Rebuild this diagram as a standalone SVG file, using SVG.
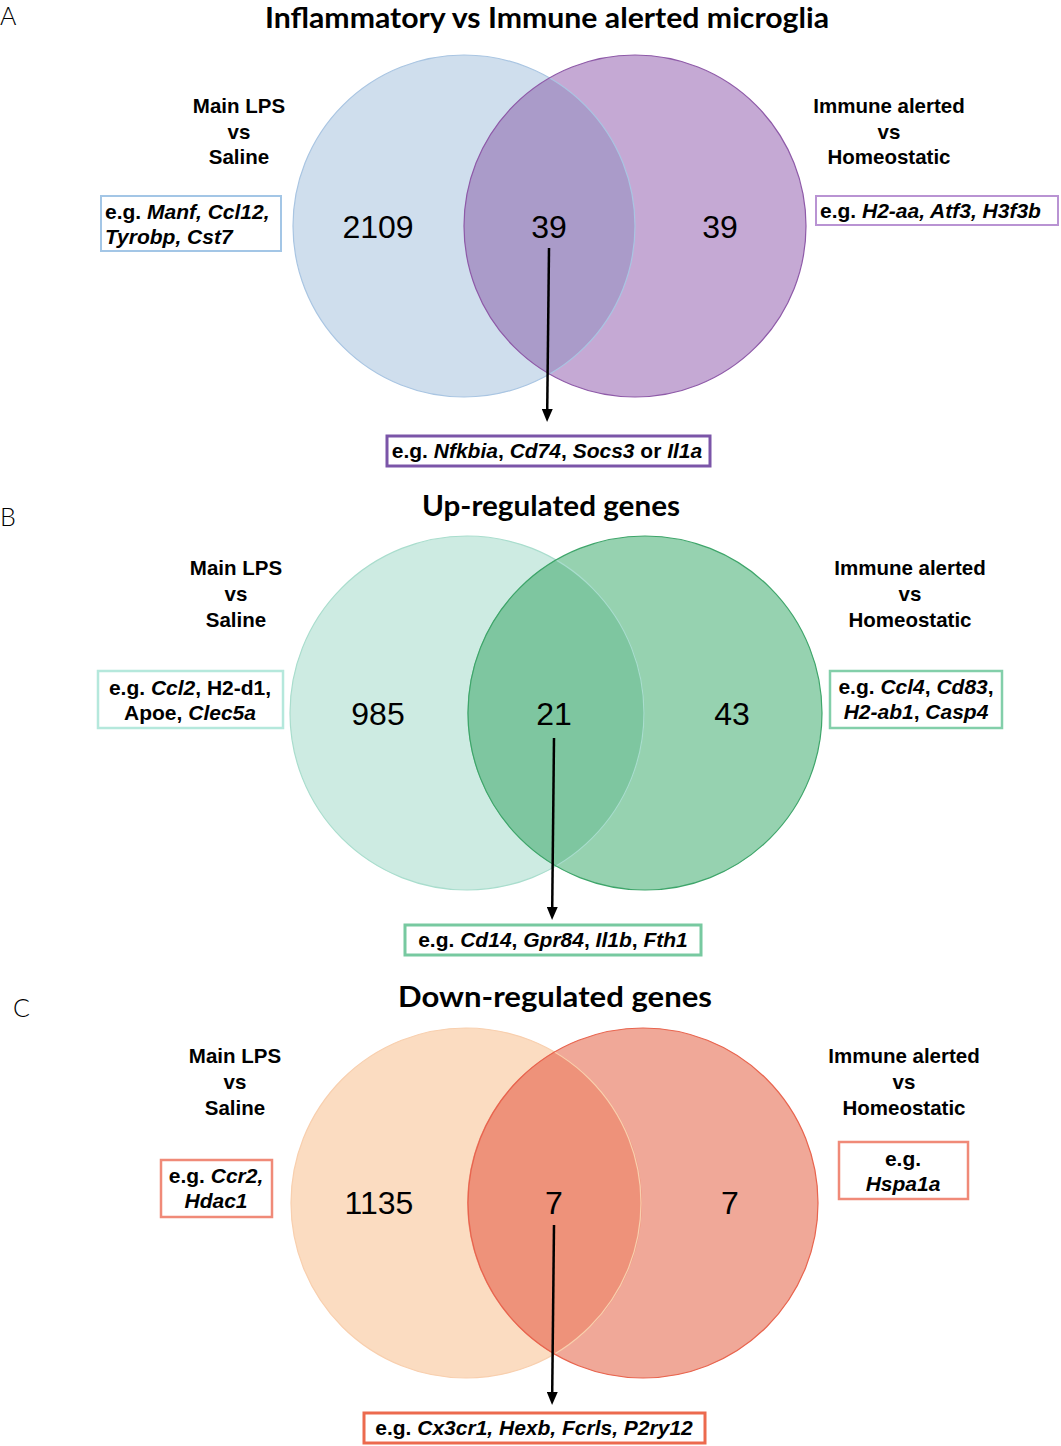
<svg xmlns="http://www.w3.org/2000/svg" width="1061" height="1446" viewBox="0 0 1061 1446">
<defs>
<style>
text{font-family:"Liberation Sans",Arial,sans-serif;fill:#000}
.title{font-family:Lato,"Open Sans",sans-serif;font-weight:700;font-size:28px;text-anchor:middle}
.panel{font-family:Lato,"Open Sans",sans-serif;font-weight:300;font-size:25px}
.lab{font-weight:700;font-size:20.5px;text-anchor:middle}
.num{font-size:32px;text-anchor:middle}
.box{font-weight:700;font-size:21px}
.mid{text-anchor:middle}
.i{font-style:italic}
.arrow{stroke:#000;stroke-width:2.5;fill:none}
</style>
<marker id="ah" markerWidth="13" markerHeight="11" refX="2" refY="5.5" orient="auto" markerUnits="userSpaceOnUse" viewBox="0 0 13 11">
<path d="M0,0 L13,5.5 L0,11 Z" fill="#000"/>
</marker>
</defs>
<rect width="1061" height="1446" fill="#fff"/>

<!-- Panel A -->
<g id="panelA">
<text class="panel" x="0" y="25">A</text>
<text class="title" x="547" y="28" textLength="564" lengthAdjust="spacingAndGlyphs">Inflammatory vs Immune alerted microglia</text>
<g id="A-left">
<circle cx="464" cy="226" r="171" fill="#cfdeed"/>
</g>
<g id="A-right">
<circle cx="635" cy="226" r="171" fill="#c5a9d4"/>
</g>
<g id="A-overlap">
<path d="M549.5,77.9 A171,171 0 0 1 549.5,374.1 A171,171 0 0 1 549.5,77.9 Z" fill="#aa9bc9"/>
</g>
<circle cx="464" cy="226" r="171" fill="none" stroke="#a9c5e2" stroke-width="1.2"/>
<circle cx="635" cy="226" r="171" fill="none" stroke="#8e5aa8" stroke-width="1.2"/>
<text class="lab" x="239" y="113">Main LPS</text>
<text class="lab" x="239" y="139">vs</text>
<text class="lab" x="239" y="164">Saline</text>
<text class="lab" x="889" y="113">Immune alerted</text>
<text class="lab" x="889" y="139">vs</text>
<text class="lab" x="889" y="164">Homeostatic</text>
<text class="num" x="378" y="238">2109</text>
<text class="num" x="549" y="238">39</text>
<text class="num" x="720" y="238">39</text>
<g id="A-box-left">
<rect x="101" y="196" width="180" height="55" fill="#fff" stroke="#a3c6e6" stroke-width="2"/>
<text class="box" x="105" y="219">e.g. <tspan class="i">Manf, Ccl12,</tspan></text>
<text class="box i" x="105" y="244">Tyrobp, Cst7</text>
</g>
<g id="A-box-right">
<rect x="816" y="196" width="242" height="29" fill="#fff" stroke="#b993d3" stroke-width="2"/>
<text class="box" x="820" y="218">e.g. <tspan class="i">H2-aa, Atf3, H3f3b</tspan></text>
</g>
<g id="A-box-bottom">
<rect x="387" y="436" width="323" height="30" fill="#fff" stroke="#7b55a8" stroke-width="3"/>
<text class="box mid" x="547" y="458">e.g. <tspan class="i">Nfkbia</tspan>, <tspan class="i">Cd74</tspan>, <tspan class="i">Socs3</tspan> or <tspan class="i">Il1a</tspan></text>
</g>
</g>

<!-- Panel B -->
<g id="panelB">
<text class="panel" x="0" y="526">B</text>
<text class="title" x="551" y="516" textLength="258" lengthAdjust="spacingAndGlyphs">Up-regulated genes</text>
<g id="B-left">
<circle cx="467" cy="713" r="177" fill="#cdebe2"/>
</g>
<g id="B-right">
<circle cx="645" cy="713" r="177" fill="#96d2b0"/>
</g>
<g id="B-overlap">
<path d="M556,559.7 A177,177 0 0 1 556,866.3 A177,177 0 0 1 556,559.7 Z" fill="#7ec6a0"/>
</g>
<circle cx="467" cy="713" r="177" fill="none" stroke="#a9ddcd" stroke-width="1.2"/>
<circle cx="645" cy="713" r="177" fill="none" stroke="#3ea56a" stroke-width="1.2"/>
<text class="lab" x="236" y="575">Main LPS</text>
<text class="lab" x="236" y="601">vs</text>
<text class="lab" x="236" y="627">Saline</text>
<text class="lab" x="910" y="575">Immune alerted</text>
<text class="lab" x="910" y="601">vs</text>
<text class="lab" x="910" y="627">Homeostatic</text>
<text class="num" x="378" y="725">985</text>
<text class="num" x="554" y="725">21</text>
<text class="num" x="732" y="725">43</text>
<g id="B-box-left">
<rect x="98" y="671" width="185" height="57" fill="#fff" stroke="#b5e8dc" stroke-width="2.5"/>
<text class="box mid" x="190" y="695">e.g. <tspan class="i">Ccl2</tspan>, H2-d1,</text>
<text class="box mid" x="190" y="720">Apoe, <tspan class="i">Clec5a</tspan></text>
</g>
<g id="B-box-right">
<rect x="830" y="671" width="172" height="57" fill="#fff" stroke="#83cfaa" stroke-width="2.5"/>
<text class="box mid" x="916" y="694">e.g. <tspan class="i">Ccl4</tspan>, <tspan class="i">Cd83</tspan>,</text>
<text class="box mid" x="916" y="719"><tspan class="i">H2-ab1</tspan>, <tspan class="i">Casp4</tspan></text>
</g>
<g id="B-box-bottom">
<rect x="405" y="925" width="296" height="30" fill="#fff" stroke="#77c9a0" stroke-width="3"/>
<text class="box mid" x="553" y="947">e.g. <tspan class="i">Cd14</tspan>, <tspan class="i">Gpr84</tspan>, <tspan class="i">Il1b</tspan>, <tspan class="i">Fth1</tspan></text>
</g>
</g>

<!-- Panel C -->
<g id="panelC">
<text class="panel" x="13" y="1017">C</text>
<text class="title" x="555" y="1007" textLength="314" lengthAdjust="spacingAndGlyphs">Down-regulated genes</text>
<g id="C-left">
<circle cx="466" cy="1203" r="175" fill="#fbdcc1"/>
</g>
<g id="C-right">
<circle cx="643" cy="1203" r="175" fill="#f0a898"/>
</g>
<g id="C-overlap">
<path d="M554.5,1051.5 A175,175 0 0 1 554.5,1354.5 A175,175 0 0 1 554.5,1051.5 Z" fill="#ee927a"/>
</g>
<circle cx="466" cy="1203" r="175" fill="none" stroke="#f8cfae" stroke-width="1.2"/>
<circle cx="643" cy="1203" r="175" fill="none" stroke="#e8644e" stroke-width="1.2"/>
<text class="lab" x="235" y="1063">Main LPS</text>
<text class="lab" x="235" y="1089">vs</text>
<text class="lab" x="235" y="1115">Saline</text>
<text class="lab" x="904" y="1063">Immune alerted</text>
<text class="lab" x="904" y="1089">vs</text>
<text class="lab" x="904" y="1115">Homeostatic</text>
<text class="num" x="379" y="1214">1135</text>
<text class="num" x="554" y="1214">7</text>
<text class="num" x="730" y="1214">7</text>
<g id="C-box-left">
<rect x="161" y="1160" width="111" height="57" fill="#fff" stroke="#f08a78" stroke-width="2.5"/>
<text class="box mid" x="216" y="1183">e.g. <tspan class="i">Ccr2,</tspan></text>
<text class="box mid i" x="216" y="1208">Hdac1</text>
</g>
<g id="C-box-right">
<rect x="839" y="1142" width="129" height="57" fill="#fff" stroke="#f08a78" stroke-width="2.5"/>
<text class="box mid" x="903" y="1166">e.g.</text>
<text class="box mid i" x="903" y="1191">Hspa1a</text>
</g>
<g id="C-box-bottom">
<rect x="364" y="1413" width="341" height="30" fill="#fff" stroke="#ec6a4e" stroke-width="3"/>
<text class="box mid" x="534" y="1435">e.g. <tspan class="i">Cx3cr1, Hexb, Fcrls, P2ry12</tspan></text>
</g>
</g>

<g id="connectors">
<line class="arrow" x1="549" y1="248" x2="547.2" y2="411" marker-end="url(#ah)"/>
<line class="arrow" x1="554" y1="738" x2="552.2" y2="909" marker-end="url(#ah)"/>
<line class="arrow" x1="554" y1="1225" x2="552.2" y2="1394" marker-end="url(#ah)"/>
</g>
</svg>
